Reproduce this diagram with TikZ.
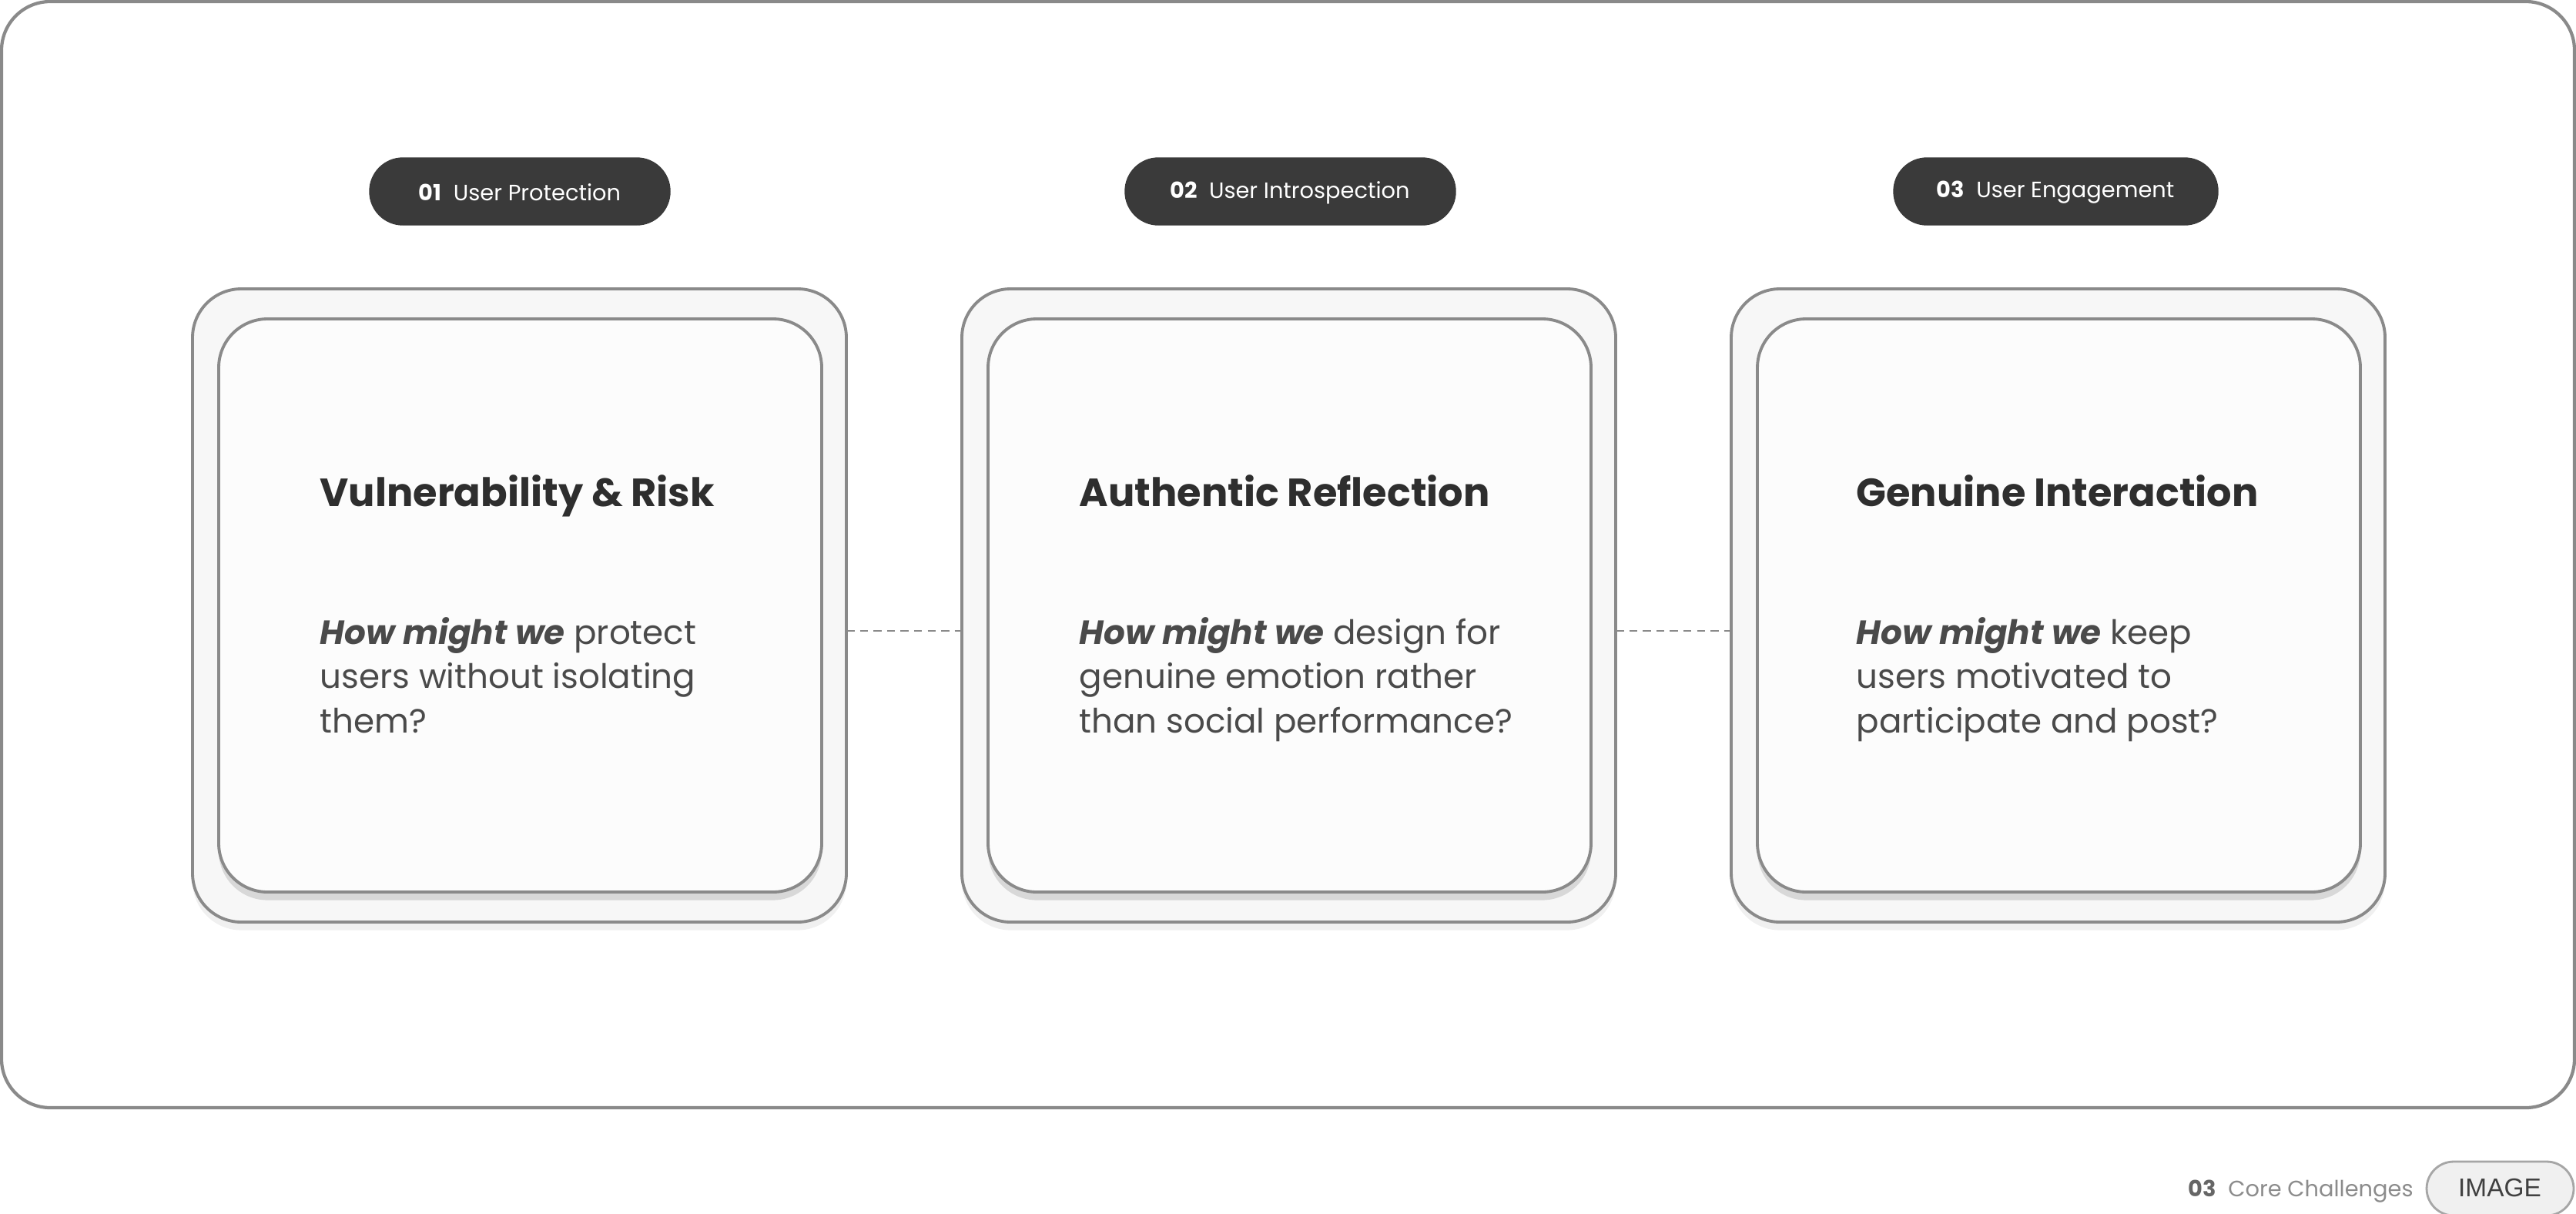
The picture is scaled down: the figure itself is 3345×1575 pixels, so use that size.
\documentclass[tikz,border=0pt]{standalone}
\usepackage{fontspec}
\setmainfont{Poppins}
\newfontfamily\imgfont{Liberation Sans}
\usetikzlibrary{shadows}
\definecolor{ink}{HTML}{2E2E2E}
\definecolor{body}{HTML}{4A4A4A}
\definecolor{pillc}{HTML}{3A3A3A}
\definecolor{edge}{HTML}{8A8A8A}
\begin{document}
\begin{tikzpicture}[x=0.01cm,y=-0.01cm,
  frame/.style={draw=edge,line width=1.2pt,rounded corners=18pt},
  outercard/.style={draw=edge,line width=1.1pt,fill=black!3,rounded corners=18pt,
     drop shadow={shadow xshift=0pt,shadow yshift=-3pt,opacity=0.06,fill=black}},
  innercard/.style={draw=edge,line width=1.1pt,fill=black!1,rounded corners=18pt,
     drop shadow={shadow xshift=0pt,shadow yshift=-3pt,opacity=0.12,fill=black}},
  pill/.style={fill=pillc,rounded corners=12.3pt,draw=pillc},
  pilltext/.style={text=white,font=\fontsize{8.2}{10}\selectfont,inner sep=0},
  title/.style={anchor=base west,text=ink,inner sep=0,font=\fontsize{14.5}{17}\selectfont},
  bodytext/.style={anchor=base west,text=body,inner sep=0,align=left,
     font=\fontsize{12.4}{16.3}\selectfont},
  conn/.style={draw=edge,line width=0.8pt,dash pattern=on 3pt off 2pt}]
\useasboundingbox (0,0) rectangle (3345,1575);
\fill[white] (0,0) rectangle (3345,1575);
\draw[frame] (2,2) rectangle (3343,1438);
% cards
\foreach \i/\dx in {1/0,2/999,3/1998}{
  \path[outercard] (250+\dx,375) rectangle (1099+\dx,1197);
  \path[innercard] (284+\dx,414) rectangle (1067+\dx,1158);
  \coordinate (ocl\i) at (250+\dx,819);
  \coordinate (ocr\i) at (1099+\dx,819);
}
% pills
\path[pill] (480,205) rectangle (870,292);
\node[pilltext] (p1) at (675,250) {\textbf{01}\ \ User Protection};
\path[pill] (1461,205) rectangle (1890,292);
\node[pilltext] (p2) at (1675,250) {\textbf{02}\ \ User Introspection};
\path[pill] (2459,205) rectangle (2880,292);
\node[pilltext] (p3) at (2669,250) {\textbf{03}\ \ User Engagement};
% titles
\node[title] (t1) at (415,657) {\textbf{Vulnerability \& Risk}};
\node[title] (t2) at (1401,657) {\textbf{Authentic Reflection}};
\node[title] (t3) at (2410,657) {\textbf{Genuine Interaction}};
% bodies
\node[bodytext] (b1) at (415,951) {\textit{\textbf{How might we}} protect\\users without isolating\\them?};
\node[bodytext] (b2) at (1401,951) {\textit{\textbf{How might we}} design for\\genuine emotion rather\\than social performance?};
\node[bodytext] (b3) at (2410,951) {\textit{\textbf{How might we}} keep\\users motivated to\\participate and post?};
% connectors
\draw[conn] (ocr1) -- (ocl2);
\draw[conn] (ocr2) -- (ocl3);
% footer
\node[anchor=base west,inner sep=0,text=black!45,font=\fontsize{8.2}{10}\selectfont] (foot) at (2841,1553) {\textcolor{black!60}{\textbf{03}}\ \ Core Challenges};
\path[draw=black!35,fill=black!6,line width=0.8pt,rounded corners=10pt] (3151,1508) rectangle (3342,1578);
\node[inner sep=0,text=black!75,font=\imgfont\fontsize{9.5}{11}\selectfont] (img) at (3246,1542) {IMAGE};
\end{tikzpicture}
\end{document}
